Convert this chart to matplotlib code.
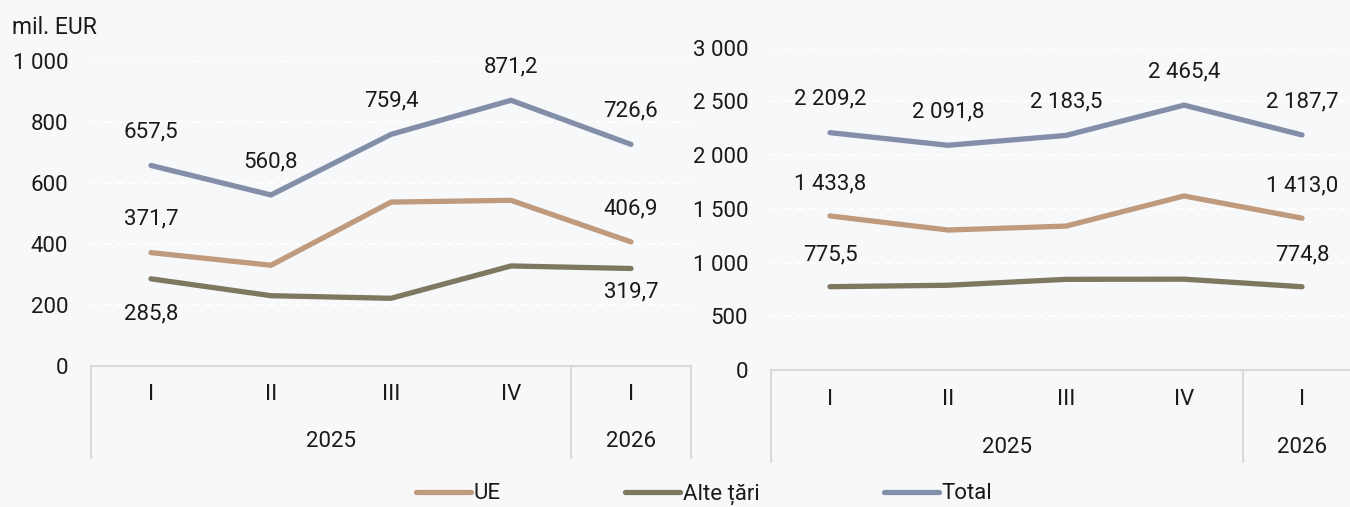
import matplotlib.pyplot as plt

plt.rcParams["font.family"] = ["Roboto", "DejaVu Sans"]

BG = "#f7f8fa"
TEXT = "#1a1a1a"
AXIS = "#d9dadc"

QUARTERS = ["I", "II", "III", "IV", "I"]
YEARS = ["2025", "2026"]

SERIES = ["UE", "Alte țări", "Total"]
COLORS = {"UE": "#c09a7c", "Alte țări": "#7f7861", "Total": "#838ea9"}

# left panel
left_ue = [371.7, 330.3, 537.4, 543.2, 406.9]
left_alte = [285.8, 230.5, 222.0, 328.0, 319.7]
left_total = [657.5, 560.8, 759.4, 871.2, 726.6]

# right panel
right_ue = [1433.8, 1303.0, 1339.5, 1620.0, 1413.0]
right_alte = [775.5, 788.8, 844.0, 845.4, 774.8]
right_total = [2209.2, 2091.8, 2183.5, 2465.4, 2187.7]

left_ticks = [0, 200, 400, 600, 800, 1000]
right_ticks = [0, 500, 1000, 1500, 2000, 2500, 3000]

# which points get a label, and vertical offset in points
left_labels = {
    "Total": [(i, 24) for i in range(5)],
    "UE": [(0, 24), (4, 24)],
    "Alte țări": [(0, -25), (4, -17)],
}
right_labels = {
    "Total": [(i, 24) for i in range(5)],
    "UE": [(0, 23), (4, 23)],
    "Alte țări": [(0, 23), (4, 23)],
}


def fmt(v, decimals=1):
    s = f"{v:,.{decimals}f}"
    return s.replace(",", " ").replace(".", ",")


def draw_panel(ax, data, ticks, labels, box_bottom, q_y, y_y):
    ax.set_facecolor(BG)
    x = [i + 0.5 for i in range(len(QUARTERS))]
    for name in SERIES:
        ax.plot(x, data[name], color=COLORS[name], lw=3.8,
                solid_capstyle="round", solid_joinstyle="miter",
                label=name, clip_on=False, zorder=3)
        for i, dy in labels[name]:
            ax.annotate(fmt(data[name][i]), (x[i], data[name][i]),
                        xytext=(0, dy), textcoords="offset points",
                        ha="center", va="center", fontsize=16, color=TEXT)

    ax.set_xlim(0, 5)
    ax.set_ylim(ticks[0], ticks[-1])
    ax.set_yticks(ticks)
    ax.set_yticklabels([fmt(t, 0) for t in ticks])
    ax.tick_params(axis="y", length=0, labelsize=16, colors=TEXT, pad=16.5)
    ax.set_xticks([])
    for s in ["top", "right", "left"]:
        ax.spines[s].set_visible(False)
    ax.spines["bottom"].set_color(AXIS)
    ax.spines["bottom"].set_linewidth(1.5)
    ax.yaxis.grid(True, color="white", linestyle=(0, (4, 3)), lw=1.3)
    ax.set_axisbelow(True)

    tr = ax.get_xaxis_transform()
    for xv in [0, 4, 5]:
        ax.plot([xv, xv], [0, box_bottom], transform=tr, color=AXIS,
                lw=1.5, clip_on=False)
    for xi, q in zip(x, QUARTERS):
        ax.text(xi, q_y, q, transform=tr, ha="center", va="center",
                fontsize=16, color=TEXT)
    ax.text(2.0, y_y, YEARS[0], transform=tr, ha="center", va="center",
            fontsize=16, color=TEXT)
    ax.text(4.5, y_y, YEARS[1], transform=tr, ha="center", va="center",
            fontsize=16, color=TEXT)


fig = plt.figure(figsize=(13.5, 5.07), dpi=100)
fig.patch.set_facecolor(BG)

ax1 = fig.add_axes([91 / 1350, 141 / 507, 600 / 1350, 305 / 507])
ax2 = fig.add_axes([771 / 1350, 137 / 507, 590 / 1350, 322.3 / 507])

draw_panel(ax1, {"UE": left_ue, "Alte țări": left_alte, "Total": left_total},
           left_ticks, left_labels, -0.302, -0.095, -0.249)
draw_panel(ax2, {"UE": right_ue, "Alte țări": right_alte, "Total": right_total},
           right_ticks, right_labels, -0.285, -0.093, -0.239)

fig.text(12 / 1350, 1 - 27 / 507, "mil. EUR", ha="left", va="center",
         fontsize=16.5, color=TEXT)

handles, names = ax1.get_legend_handles_labels()
leg = fig.legend(handles, names, loc="center", ncol=3,
                 bbox_to_anchor=(704 / 1350, 1 - 494 / 507),
                 frameon=False, fontsize=16, handlelength=2.5,
                 handletextpad=0.1, columnspacing=5.6)
for t in leg.get_texts():
    t.set_color(TEXT)

fig.savefig("out.png", dpi=100, facecolor=BG)
